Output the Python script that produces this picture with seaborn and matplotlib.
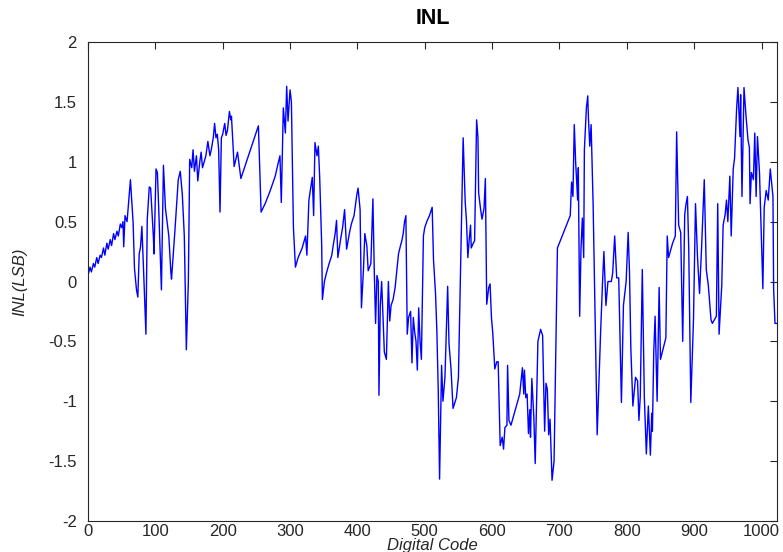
import matplotlib
matplotlib.use("Agg")
import matplotlib.pyplot as plt
import numpy as np
import pandas as pd
import seaborn as sns

# INL curve sampled along the code range, region by region
code_a = [0, 3, 5, 8, 10, 13, 15, 18, 20, 23, 25, 28, 30, 33, 35, 38, 40, 43, 45, 48,
          50, 52, 53, 55, 58, 60, 63, 67, 69, 72, 74, 76, 78, 80, 82, 83, 86, 88, 91, 93,
          97, 98, 101, 103, 105, 109, 112, 115, 120, 123, 124, 129]
inl_a = [0.05, 0.12, 0.08, 0.15, 0.12, 0.2, 0.15, 0.22, 0.2, 0.28, 0.22, 0.32, 0.27, 0.35, 0.3, 0.4, 0.35, 0.42, 0.38, 0.48,
         0.45, 0.5, 0.29, 0.55, 0.5, 0.64, 0.85, 0.49, 0.11, -0.07, -0.13, 0.23, 0.29, 0.46, 0.17, 0.02, -0.44, 0.52, 0.79, 0.78,
         0.38, 0.23, 0.94, 0.91, 0.61, -0.07, 0.97, 0.61, 0.38, 0.08, 0.02, 0.42]

code_b = [134, 137, 140, 143, 146, 149, 151, 154, 156, 158, 161, 163, 166, 168, 170, 172, 175, 178, 181, 183,
          186, 188, 190, 192, 194, 196, 198, 200, 203, 205, 207, 210, 212, 213, 217, 222, 227, 253]
inl_b = [0.85, 0.92, 0.73, 0.38, -0.57, 0.0, 1.02, 0.95, 1.1, 0.92, 1.05, 0.84, 1.0, 1.08, 0.95, 0.99, 1.05, 1.17, 1.05, 1.1,
         1.2, 1.32, 1.2, 1.23, 1.1, 0.58, 1.2, 1.23, 1.32, 1.22, 1.26, 1.42, 1.35, 1.38, 0.96, 1.08, 0.86, 1.3]

code_c = [257, 263, 270, 278, 282, 285, 287, 290, 293, 295, 297, 300, 302, 305, 308, 312, 318, 323, 325, 328,
          333, 335, 337, 340, 342, 344, 347, 348, 351, 354, 358, 362, 364, 367, 369, 371, 375, 378, 381, 384,
          388, 391, 395, 399]
inl_c = [0.58, 0.65, 0.75, 0.88, 0.98, 1.05, 0.66, 1.45, 1.24, 1.63, 1.34, 1.6, 1.5, 0.45, 0.12, 0.2, 0.28, 0.38, 0.22, 0.68,
         0.87, 0.55, 1.16, 1.05, 1.13, 0.87, 0.3, -0.15, 0.0, 0.07, 0.15, 0.22, 0.3, 0.4, 0.51, 0.2, 0.35, 0.45, 0.6, 0.27,
         0.4, 0.48, 0.55, 0.72]

code_d = [401, 404, 406, 409, 411, 414, 416, 420, 423, 425, 427, 429, 431, 432, 434, 436, 438, 440, 443, 446,
          448, 450, 453, 456, 458, 461, 464, 466, 468, 470, 472, 474, 476, 479, 481, 483, 485, 487, 489, 491,
          493, 495, 498, 500, 503, 507, 511, 513, 516, 518, 520, 522, 525, 527, 530, 534, 536, 539, 542, 547,
          550, 554]
inl_d = [0.78, 0.6, -0.22, 0.1, 0.4, 0.3, 0.09, 0.15, 0.69, 0.1, -0.35, 0.05, 0.0, -0.95, -0.2, 0.0, -0.3, -0.59, -0.65, 0.0,
         -0.33, -0.2, -0.15, -0.05, 0.06, 0.23, 0.3, 0.34, 0.4, 0.5, 0.55, -0.44, -0.3, -0.25, -0.68, -0.3, -0.42, -0.5, -0.74, -0.22,
         -0.5, -0.65, 0.38, 0.45, 0.5, 0.55, 0.62, 0.18, -0.1, -0.42, -0.9, -1.65, -0.7, -1.0, -0.8, -0.04, -0.52, -0.73, -1.06, -0.97,
         -0.8, 0.35]

code_e = [557, 560, 562, 564, 566, 568, 569, 572, 574, 577, 579, 580, 583, 585, 588, 590, 592, 595, 597, 599,
          601, 604, 607, 609, 612, 615, 617, 619, 622, 623, 625, 628, 641, 645, 647, 648, 650, 652, 654, 656,
          657, 659, 662, 664, 666, 668, 672, 675, 678, 680, 682, 684, 686, 689, 692]
inl_e = [1.2, 0.67, 0.5, 0.2, 0.35, 0.47, 0.28, 0.32, 0.34, 1.35, 1.2, 0.74, 0.6, 0.52, 0.61, 0.86, -0.19, -0.05, -0.02, -0.3,
         -0.43, -0.73, -0.67, -0.67, -1.37, -1.3, -1.4, -1.22, -1.2, -0.7, -1.16, -1.2, -0.94, -0.72, -0.94, -0.74, -0.97, -0.94, -1.27, -1.07,
         -1.3, -0.81, -1.14, -1.52, -1.0, -0.5, -0.4, -0.45, -1.25, -0.85, -0.9, -1.28, -1.15, -1.66, -1.5]

code_f = [697, 716, 718, 720, 722, 724, 727, 728, 730, 732, 734, 736, 737, 740, 742, 743, 745, 747, 750, 753,
          756, 761, 764, 766, 769, 772, 777, 779, 782, 785, 788, 792, 795, 799]
inl_f = [0.28, 0.55, 0.83, 0.71, 1.31, 1.0, 0.68, 0.95, -0.29, 0.28, 0.53, 0.2, 1.1, 1.45, 1.55, 1.37, 1.13, 1.31, 0.64, -0.32,
         -1.28, -0.44, 0.0, 0.25, -0.2, 0.0, 0.0, 0.07, 0.38, 0.03, 0.03, -1.01, -0.2, 0.0]

code_g = [802, 804, 806, 809, 813, 816, 818, 820, 823, 826, 829, 832, 835, 837, 838, 840, 842, 845, 848, 850,
          854, 858, 860, 862, 868, 872, 874, 877, 880, 883, 886, 888, 890, 892, 895, 899, 902, 905, 908, 911,
          915, 918]
inl_g = [0.41, 0.08, -0.56, -1.04, -0.8, -0.83, -1.16, -0.96, 0.1, -0.96, -1.44, -1.04, -1.45, -1.1, -1.25, -0.59, -0.29, -1.0, -0.05, -0.65,
         -0.56, -0.47, 0.38, 0.2, 0.32, 0.38, 1.25, 0.47, 0.41, -0.5, 0.56, 0.65, 0.71, 0.26, -1.01, -0.32, 0.65, 0.2, -0.1, 0.28,
         0.85, 0.1]

code_h = [921, 925, 927, 933, 935, 937, 941, 943, 946, 948, 950, 953, 955, 958, 960, 963, 965, 968, 969, 971,
          974, 977, 980, 982, 983, 985, 988, 990, 992, 994, 997, 1002, 1004, 1007, 1010, 1013, 1017, 1018, 1020, 1023]
inl_h = [-0.03, -0.32, -0.35, -0.29, 0.65, -0.44, -0.03, 0.47, 0.56, 0.68, 0.5, 0.88, 0.38, 0.94, 1.03, 1.44, 1.62, 1.21, 1.56, 0.71,
         1.62, 1.38, 1.18, 1.12, 0.65, 0.91, 0.85, 1.24, 0.71, 1.21, 0.91, -0.06, 0.62, 0.76, 0.68, 0.94, 0.71, -0.06, -0.35, -0.35]

x_ticks = list(range(0, 1001, 100))
y_ticks = [-2, -1.5, -1, -0.5, 0, 0.5, 1, 1.5, 2]
y_tick_labels = ["-2", "-1.5", "-1", "-0.5", "0", "0.5", "1", "1.5", "2"]

codes = code_a + code_b + code_c + code_d + code_e + code_f + code_g + code_h
values = inl_a + inl_b + inl_c + inl_d + inl_e + inl_f + inl_g + inl_h
df = pd.DataFrame({"code": codes, "inl": values})

sns.set_theme(style="white")
plt.rcParams["font.family"] = ["Liberation Sans", "DejaVu Sans"]
plt.rcParams["axes.unicode_minus"] = False

axis_color = "#262626"
fig = plt.figure(figsize=(7.83, 5.52), dpi=100)
ax = fig.add_axes([88 / 783, 1 - 521 / 552, (777 - 88) / 783, (521 - 42) / 552])

sns.lineplot(data=df, x="code", y="inl", ax=ax, color="#0000ff", linewidth=1.0,
             estimator=None, sort=True)

ax.set_xlim(0, 1023)
ax.set_ylim(-2, 2)
ax.set_xticks(x_ticks)
ax.set_xticklabels([str(t) for t in x_ticks])
ax.set_yticks(y_ticks)
ax.set_yticklabels(y_tick_labels)

ax.tick_params(direction="in", top=True, right=True, length=5, width=0.8,
               colors=axis_color, labelsize=12)
ax.tick_params(axis="x", pad=2)
ax.tick_params(axis="y", pad=8)
for spine in ax.spines.values():
    spine.set_color(axis_color)
    spine.set_linewidth(0.8)

ax.set_title("INL", fontsize=15.5, fontweight="bold", color="black", pad=13)
ax.set_xlabel("Digital Code", fontsize=12, fontstyle="italic", color=axis_color)
ax.set_ylabel("INL(LSB)", fontsize=12, fontstyle="italic", color=axis_color)
ax.xaxis.set_label_coords(0.5, -0.036)
ax.yaxis.set_label_coords(-0.088, 0.5)

fig.savefig("out.png", dpi=100)
